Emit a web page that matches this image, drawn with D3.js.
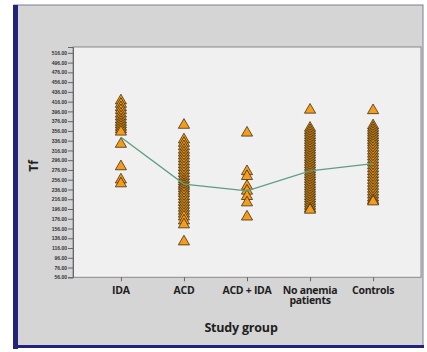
<!DOCTYPE html>
<html>
<head>
<meta charset="utf-8">
<script src="https://cdn.jsdelivr.net/npm/d3@7"></script>
<style>
  html, body { margin: 0; padding: 0; background: #ffffff; }
  svg { display: block; }
</style>
</head>
<body>
<svg id="chart" width="427" height="352"></svg>
<script>
// Study groups along the x axis
const groups = ["IDA", "ACD", "ACD + IDA", "No anemia patients", "Controls"];

// Tf values per patient, one array per group
const tfIDA = [418, 411, 404, 398, 391, 385, 379, 374, 369, 364, 359, 354, 329, 283, 256, 248];
const tfACD = [368, 338, 331, 324, 317, 311, 305, 299, 293, 287, 281, 275, 269, 263, 257, 252,
               247, 243, 238, 233, 228, 222, 216, 210, 204, 198, 192, 186, 180, 172, 164, 129];
const tfACDIDA = [352, 273, 263, 243, 233, 222, 209, 180];
const tfNoAnemia = [399, 362, 357, 352, 347, 342, 337, 332, 327, 322, 317, 312, 307, 302, 297,
                    292, 287, 282, 277, 272, 267, 262, 257, 252, 247, 242, 237, 232, 227, 222,
                    217, 212, 207, 202, 197, 194];
const tfControls = [398, 367, 362, 357, 352, 347, 342, 337, 332, 327, 321, 315, 309, 303, 297,
                    291, 285, 279, 273, 267, 261, 255, 249, 243, 237, 231, 225, 219, 214, 211];

// Group means joined by the line
const groupMeans = [343, 247, 233, 274, 289];

// Y axis tick values
const yTicks = d3.range(56, 517, 20);

const seriesByGroup = [tfIDA, tfACD, tfACDIDA, tfNoAnemia, tfControls];

const svg = d3.select("#chart");

// Outer panel
svg.append("rect")
  .attr("x", 14).attr("y", 5).attr("width", 409).attr("height", 341)
  .attr("fill", "#d5d5d5").attr("stroke", "#7c7c9c").attr("stroke-width", 1);
// Heavy navy edges on the left and bottom
svg.append("rect").attr("x", 13).attr("y", 5).attr("width", 5).attr("height", 344).attr("fill", "#23237a");
svg.append("rect").attr("x", 13).attr("y", 345).attr("width", 411).attr("height", 3).attr("fill", "#23237a");

const plot = { left: 73, right: 421, top: 47, bottom: 277.3 };

// Plot area
svg.append("rect")
  .attr("x", plot.left).attr("y", plot.top)
  .attr("width", plot.right - plot.left).attr("height", plot.bottom - plot.top)
  .attr("fill", "#f0f0f0").attr("stroke", "#8a8a8a").attr("stroke-width", 1);

const x = d3.scalePoint().domain(groups).range([plot.left, plot.right]).padding(0.76);
const y = d3.scaleLinear().domain([56, 528]).range([plot.bottom, plot.top]);

// Y axis
const yAxis = svg.append("g")
  .attr("transform", `translate(${plot.left},0)`)
  .call(d3.axisLeft(y).tickValues(yTicks).tickFormat(d3.format(".2f")).tickSize(5).tickPadding(1));
yAxis.select(".domain").attr("stroke", "#666");
yAxis.selectAll(".tick line").attr("stroke", "#666");
yAxis.selectAll(".tick text")
  .attr("fill", "#333").attr("font-family", "'Liberation Sans', Arial, sans-serif")
  .attr("font-size", 5).attr("font-weight", "bold");

// X axis
const xAxis = svg.append("g")
  .attr("transform", `translate(0,${plot.bottom})`)
  .call(d3.axisBottom(x).tickSize(4).tickFormat(""));
xAxis.select(".domain").remove();
xAxis.selectAll(".tick line").attr("stroke", "#666");

// Category labels (multi-line where needed)
const labelLines = { "No anemia patients": ["No anemia", "patients"] };
groups.forEach(g => {
  const lines = labelLines[g] || [g];
  const t = svg.append("text")
    .attr("x", x(g)).attr("y", 294)
    .attr("text-anchor", "middle")
    .attr("font-family", "'Open Sans', sans-serif").attr("font-weight", "bold")
    .attr("font-size", 10.5).attr("letter-spacing", -0.3).attr("fill", "#1e1e1e");
  lines.forEach((ln, i) => {
    t.append("tspan").attr("x", x(g)).attr("dy", i === 0 ? 0 : 10).text(ln);
  });
});

// Axis titles
svg.append("text")
  .attr("x", 241).attr("y", 332).attr("text-anchor", "middle")
  .attr("font-family", "'Open Sans', sans-serif").attr("font-weight", "bold")
  .attr("font-size", 12.5).attr("letter-spacing", -0.2).attr("fill", "#1e1e1e").text("Study group");
svg.append("text")
  .attr("transform", "translate(38,166) rotate(-90)").attr("text-anchor", "middle")
  .attr("font-family", "'Open Sans', sans-serif").attr("font-weight", "bold")
  .attr("font-size", 12).attr("fill", "#1e1e1e").text("Tf");

// Points
const tri = d3.symbol().type(d3.symbolTriangle).size(54);
const points = [];
seriesByGroup.forEach((vals, i) => vals.forEach(v => points.push({ g: groups[i], v })));
svg.append("g").selectAll("path")
  .data(points)
  .join("path")
  .attr("d", tri)
  .attr("transform", d => `translate(${x(d.g)},${y(d.v)})`)
  .attr("fill", "#f59c1a")
  .attr("stroke", "#2a2010")
  .attr("stroke-width", 0.9)
  .attr("stroke-opacity", 0.8);

// Mean line
const line = d3.line().x((d, i) => x(groups[i])).y(d => y(d));
svg.append("path")
  .datum(groupMeans)
  .attr("d", line)
  .attr("fill", "none")
  .attr("stroke", "#5e9e82")
  .attr("stroke-width", 1.3);
</script>
</body>
</html>
